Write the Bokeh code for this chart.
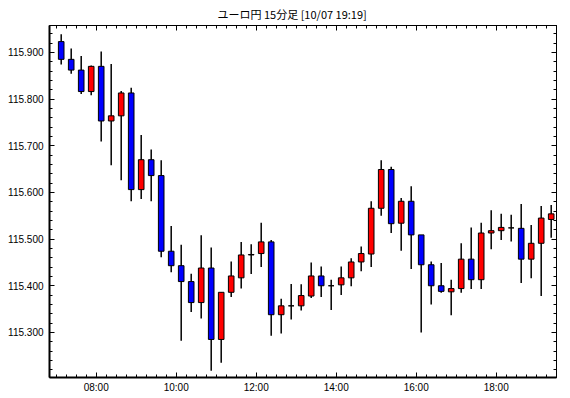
from bokeh.plotting import figure
from bokeh.models import (LinearAxis, FixedTicker, Range1d, ColumnDataSource,
                          CustomJSTickFormatter, PrintfTickFormatter)
from bokeh.embed import file_html
from bokeh.resources import INLINE

# ---- data (15-minute candles, 07:00 .. 19:15) ----
times = ["07:00", "07:15", "07:30", "07:45", "08:00", "08:15", "08:30", "08:45",
         "09:00", "09:15", "09:30", "09:45", "10:00", "10:15", "10:30", "10:45",
         "11:00", "11:15", "11:30", "11:45", "12:00", "12:15", "12:30", "12:45",
         "13:00", "13:15", "13:30", "13:45", "14:00", "14:15", "14:30", "14:45",
         "15:00", "15:15", "15:30", "15:45", "16:00", "16:15", "16:30", "16:45",
         "17:00", "17:15", "17:30", "17:45", "18:00", "18:15", "18:30", "18:45",
         "19:00", "19:15"]
opens = [115.923, 115.885, 115.862, 115.816, 115.870, 115.753, 115.764, 115.813,
         115.606, 115.670, 115.636, 115.474, 115.443, 115.409, 115.364, 115.438,
         115.285, 115.386, 115.417, 115.466, 115.469, 115.494, 115.338, 115.357,
         115.357, 115.378, 115.421, 115.400, 115.402, 115.417, 115.451, 115.468,
         115.566, 115.649, 115.534, 115.581, 115.509, 115.445, 115.400, 115.387,
         115.394, 115.457, 115.413, 115.513, 115.518, 115.524, 115.523, 115.457,
         115.491, 115.542]
highs = [115.939, 115.908, 115.892, 115.872, 115.902, 115.875, 115.817, 115.824,
         115.723, 115.692, 115.669, 115.528, 115.488, 115.426, 115.508, 115.482,
         115.386, 115.452, 115.494, 115.489, 115.535, 115.498, 115.372, 115.404,
         115.403, 115.450, 115.441, 115.413, 115.441, 115.459, 115.484, 115.581,
         115.669, 115.655, 115.588, 115.613, 115.509, 115.452, 115.449, 115.413,
         115.491, 115.525, 115.535, 115.562, 115.554, 115.552, 115.575, 115.530,
         115.571, 115.573]
lows = [115.874, 115.854, 115.811, 115.808, 115.709, 115.658, 115.626, 115.581,
        115.586, 115.581, 115.461, 115.429, 115.282, 115.344, 115.330, 115.218,
        115.235, 115.376, 115.394, 115.425, 115.440, 115.293, 115.298, 115.328,
        115.347, 115.374, 115.376, 115.348, 115.380, 115.399, 115.431, 115.440,
        115.550, 115.513, 115.475, 115.436, 115.300, 115.360, 115.385, 115.337,
        115.385, 115.393, 115.393, 115.478, 115.498, 115.495, 115.406, 115.416,
        115.378, 115.503]
closes = [115.885, 115.862, 115.816, 115.870, 115.753, 115.764, 115.813, 115.606,
          115.670, 115.636, 115.474, 115.443, 115.409, 115.364, 115.438, 115.285,
          115.386, 115.421, 115.466, 115.467, 115.494, 115.338, 115.357, 115.357,
          115.379, 115.421, 115.400, 115.400, 115.417, 115.451, 115.469, 115.566,
          115.649, 115.533, 115.581, 115.509, 115.445, 115.400, 115.388, 115.394,
          115.457, 115.413, 115.513, 115.518, 115.525, 115.524, 115.457, 115.491,
          115.545, 115.554]

x_tick_hours = [8, 10, 12, 14, 16, 18]
x_tick_labels = ["08:00", "10:00", "12:00", "14:00", "16:00", "18:00"]
y_ticks = [115.3, 115.4, 115.5, 115.6, 115.7, 115.8, 115.9]
title_text = "ユーロ円 15分足 [10/07 19:19]"

# ---- derived ----
def hours(t):
    h, m = t.split(":")
    return int(h) + int(m) / 60.0

bar_minutes = 15
xc = [hours(t) + bar_minutes / 120.0 for t in times]
top = [max(o, c) for o, c in zip(opens, closes)]
bot = [min(o, c) for o, c in zip(opens, closes)]
col = ["#FF0000" if c >= o else "#0000FF" for o, c in zip(opens, closes)]
src = ColumnDataSource(dict(x=xc, high=highs, low=lows, top=top, bottom=bot, color=col))

p = figure(width=570, height=398, output_backend="svg", toolbar_location=None,
           x_range=Range1d(6.8325, 19.5075), y_range=Range1d(115.2035, 115.9575),
           min_border_left=49, min_border_right=14, min_border_top=23,
           min_border_bottom=21, x_axis_type=None, y_axis_type=None)
p.background_fill_color = "white"
p.border_fill_color = "white"
p.outline_line_color = "black"
p.outline_line_width = 1

p.title.text = title_text
p.title.text_font = "Noto Sans CJK JP"
p.title.text_font_size = "11px"
p.title.text_font_style = "normal"
p.title.text_color = "black"
p.title.align = "left"
p.title.offset = 168
p.title.standoff = 7

minor_x = [7 + 0.25 * i for i in range(-1, 52)]
minor_y = [round(115.2 + 0.02 * i, 3) for i in range(0, 40)]
xt = FixedTicker(ticks=x_tick_hours, minor_ticks=minor_x)
yt = FixedTicker(ticks=y_ticks, minor_ticks=minor_y)
empty = CustomJSTickFormatter(code="return ''")

def style(ax, lw):
    ax.major_tick_in = 5
    ax.major_tick_out = 0
    ax.minor_tick_in = 3
    ax.minor_tick_out = 0
    ax.axis_line_width = lw
    ax.major_tick_line_width = 1
    ax.minor_tick_line_width = 1
    ax.axis_line_color = "black"
    ax.major_tick_line_color = "black"
    ax.minor_tick_line_color = "black"
    ax.major_label_text_color = "black"

xb = LinearAxis(ticker=xt, major_label_overrides={h: l for h, l in zip(x_tick_hours, x_tick_labels)})
style(xb, 2)
xb.major_label_text_font = "Liberation Sans"
xb.major_label_text_font_size = "10px"
xb.major_label_standoff = 4
p.add_layout(xb, "below")

xa = LinearAxis(ticker=xt, formatter=empty)
style(xa, 1)
xa.major_label_text_font_size = "1px"
xa.major_label_standoff = 0
p.add_layout(xa, "above")

yl = LinearAxis(ticker=yt, formatter=PrintfTickFormatter(format="%.3f"))
style(yl, 2)
yl.major_label_text_font = "Liberation Sans"
yl.major_label_text_font_size = "10px"
yl.major_label_standoff = 6
p.add_layout(yl, "left")

yr = LinearAxis(ticker=yt, formatter=empty)
style(yr, 1)
yr.major_label_text_font_size = "1px"
yr.major_label_standoff = 0
p.add_layout(yr, "right")

p.xgrid.visible = False
p.ygrid.ticker = yt
p.ygrid.grid_line_color = "black"
p.ygrid.grid_line_dash = "1 1"
p.ygrid.grid_line_width = 1

p.segment(x0="x", y0="low", x1="x", y1="high", source=src, line_color="black", line_width=1.5)
p.vbar(x="x", width=0.14, top="top", bottom="bottom", source=src,
       fill_color="color", line_color="black", line_width=1)

open("out.html", "w").write(file_html(p, INLINE))
